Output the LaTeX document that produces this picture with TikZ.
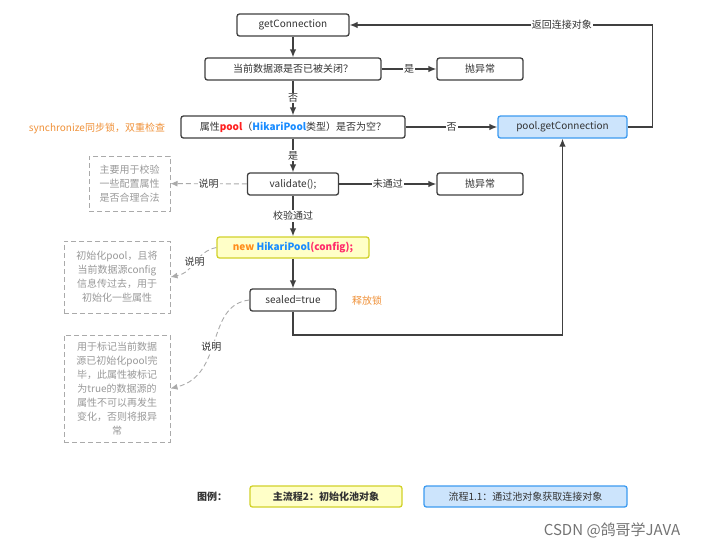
\documentclass[tikz,border=0pt]{standalone}
\usepackage{fontspec}
\setmainfont{Noto Sans CJK SC}
\usetikzlibrary{arrows.meta}
\definecolor{boxc}{HTML}{404040}
\definecolor{txt}{HTML}{333333}
\definecolor{notec}{HTML}{AAAAAA}
\definecolor{notet}{HTML}{999999}
\definecolor{lblue}{HTML}{CCE4FC}
\definecolor{bblue}{HTML}{3D9BF0}
\definecolor{lyellow}{HTML}{FFFFC8}
\definecolor{byellow}{HTML}{D2D22A}
\definecolor{poolred}{HTML}{FF2020}
\definecolor{hikblue}{HTML}{1A8CFF}
\definecolor{neworange}{HTML}{FF8C1A}
\definecolor{cfgpink}{HTML}{FF2A6A}
\definecolor{orangec}{HTML}{F0923A}
\begin{document}
\begin{tikzpicture}[x=1pt,y=-1pt,
  font=\fontsize{10}{14}\selectfont,
  box/.style={draw=boxc, line width=1.3pt, rounded corners=2.5pt, fill=white,
    minimum height=22pt, inner sep=0pt, text=txt},
  note/.style={draw=notec, dash pattern=on 5pt off 3pt, line width=1pt,
    text=notet, align=center, inner sep=0pt},
  lbl/.style={fill=white, inner sep=1pt, text=txt},
  arr/.style={-{Latex[length=8pt,width=6.5pt]}, line width=1.3pt, draw=boxc},
  darr/.style={-{Latex[length=7pt,width=6pt]}, line width=0.9pt, draw=notec,
    dash pattern=on 5pt off 3pt}]
\useasboundingbox (0,0) rectangle (709,550);
\fill[white] (0,0) rectangle (709,550);

\node[box, minimum width=112pt] (gc) at (293,25) {getConnection};
\node[box, minimum width=176pt] (closed) at (293,69) {当前数据源是否已被关闭？};
\node[box, minimum width=86pt] (ex1) at (480,69) {抛异常};
\node[box, minimum width=224pt] (pool) at (293,127) {属性\textbf{\color{poolred}pool}（\textbf{\color{hikblue}HikariPool}类型）是否为空？};
\node[box, fill=lblue, draw=bblue, minimum width=129pt] (pgc) at (562.5,127) {pool.getConnection};
\node[box, minimum width=91pt] (val) at (293,184) {validate();};
\node[box, minimum width=86pt] (ex2) at (480,184) {抛异常};
\node[box, fill=lyellow, draw=byellow, minimum width=152pt, minimum height=21pt] (newp) at (293,247.5)
  {\textbf{\color{neworange}new} \textbf{\color{hikblue}HikariPool}\textbf{\color{cfgpink}(config);}};
\node[box, minimum width=86pt] (seal) at (293,300) {sealed=true};

\node[text=orangec] (sync) at (97,128) {synchronize同步锁，双重检查};
\node[text=orangec] (lock) at (367,301) {释放锁};

\node[note, minimum width=81pt, minimum height=55pt] (n1) at (129.5,183.5)
  {主要用于校验\\一些配置属性\\是否合理合法};
\node[note, minimum width=106pt, minimum height=72pt] (n2) at (117,277)
  {初始化pool，且将\\当前数据源config\\信息传过去，用于\\初始化一些属性};
\node[note, minimum width=106pt, minimum height=107pt] (n3) at (117,388.5)
  {用于标记当前数据\\源已初始化pool完\\毕，此属性被标记\\为true的数据源的\\属性不可以再发生\\变化，否则将报异\\常};

\draw[arr] (gc) -- (closed);
\draw[arr] (closed) -- node[lbl]{是} (ex1);
\draw[arr] (closed) -- node[lbl]{否} (pool);
\draw[arr] (pool) -- node[lbl]{否} (pgc);
\draw[arr] (pool) -- node[lbl]{是} (val);
\draw[arr] (val) -- node[lbl]{未通过} (ex2);
\draw[arr] (val) -- node[lbl]{校验通过} (newp);
\draw[arr] (newp) -- (seal);
\draw[arr] (seal.south) -- (seal.south |- 0,335) -| (pgc.south);
\draw[arr] (pgc.east) -- ++(25,0) |- node[lbl, pos=0.65]{返回连接对象} (gc.east);

\draw[darr] (val) -- node[lbl]{说明} (n1);
\draw[darr] (newp.west) .. controls (195,252) and (195,272) .. node[lbl]{说明} (n2.east);
\draw[darr] (seal.west) .. controls (205,305) and (225,375) .. node[lbl, pos=0.55]{说明} (n3.east);

\node[text=txt] (lg) at (212,497) {\textbf{图例：}};
\node[box, fill=lyellow, draw=byellow, minimum width=152pt, minimum height=21pt] (l1) at (326,496.5) {\textbf{主流程2：初始化池对象}};
\node[box, fill=lblue, draw=bblue, minimum width=203pt, minimum height=21pt] (l2) at (525.5,496.5) {流程1.1：通过池对象获取连接对象};

\node[text=black!55, font=\fontsize{15}{17}\selectfont] (wm) at (612,530) {CSDN @鸽哥学JAVA};
\end{tikzpicture}
\end{document}
